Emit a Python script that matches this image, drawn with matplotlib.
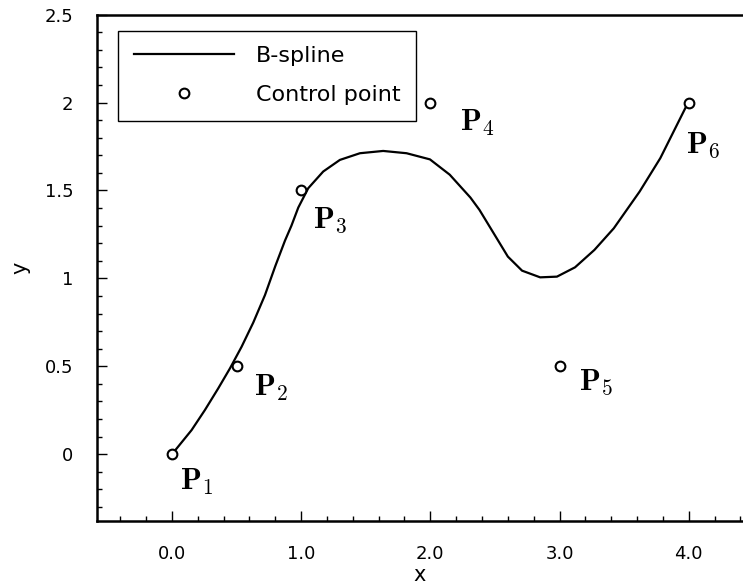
import numpy as np
import matplotlib
matplotlib.use('Agg')
import matplotlib.pyplot as plt
from matplotlib.ticker import MultipleLocator

plt.rcParams['mathtext.fontset'] = 'cm'

# control points
ctrl_x = [0.0, 0.5, 1.0, 2.0, 3.0, 4.0]
ctrl_y = [0.0, 0.5, 1.5, 2.0, 0.5, 2.0]
ctrl_names = [r'$\mathbf{P}_1$', r'$\mathbf{P}_2$', r'$\mathbf{P}_3$',
              r'$\mathbf{P}_4$', r'$\mathbf{P}_5$', r'$\mathbf{P}_6$']

# B-spline curve
spline_x = [0.0, 0.036, 0.152, 0.255, 0.358, 0.449, 0.539, 0.629, 0.72, 0.80,
            0.875, 0.925, 0.978, 1.055, 1.171, 1.30, 1.455, 1.635, 1.816, 1.997,
            2.15, 2.23, 2.31, 2.38, 2.49, 2.60, 2.71, 2.85, 2.98, 3.12, 3.27,
            3.42, 3.62, 3.78, 3.98, 4.0]
spline_y = [0.0, 0.032, 0.137, 0.251, 0.374, 0.488, 0.611, 0.748, 0.905, 1.07,
            1.215, 1.30, 1.403, 1.513, 1.608, 1.674, 1.712, 1.725, 1.712, 1.677,
            1.59, 1.525, 1.46, 1.39, 1.257, 1.124, 1.044, 1.006, 1.01, 1.063,
            1.162, 1.285, 1.494, 1.684, 1.978, 2.0]

xticks = [0, 1, 2, 3, 4]
xticklabels = ['0.0', '1.0', '2.0', '3.0', '4.0']
yticks = [0, 0.5, 1, 1.5, 2, 2.5]
yticklabels = ['0', '0.5', '1', '1.5', '2', '2.5']

# label offsets in pixels (right, down)
label_off = [(8, -13), (17, -7), (12, -15), (30, -5), (19, -1), (-3, -28)]

fig = plt.figure(figsize=(7.43, 5.85), dpi=100)
ax = fig.add_axes([97/743, 64/585, 646/743, 506.3/585])

ax.plot(spline_x, spline_y, '-', color='black', lw=1.6, label='B-spline',
        solid_joinstyle='round', zorder=2)
ax.plot(ctrl_x, ctrl_y, 'o', ms=7, mew=1.5, mec='black', mfc='white',
        label='Control point', zorder=3)

for x, y, name, off in zip(ctrl_x, ctrl_y, ctrl_names, label_off):
    ax.annotate(name, (x, y), xytext=off, textcoords='offset pixels',
                ha='left', va='top', fontsize=22)

ax.set_xlim(-0.58, 4.42)
ax.set_ylim(-0.38, 2.5)
ax.set_xticks(xticks)
ax.set_xticklabels(xticklabels)
ax.set_yticks(yticks)
ax.set_yticklabels(yticklabels)
ax.xaxis.set_minor_locator(MultipleLocator(0.2))
ax.yaxis.set_minor_locator(MultipleLocator(0.1))
ax.tick_params(which='both', direction='in', top=False, right=False,
               labelsize=13, width=1.0)
ax.tick_params(which='major', length=7, pad=17)
ax.tick_params(which='minor', length=3.5)

for s in ['left', 'bottom', 'top']:
    ax.spines[s].set_linewidth(1.8)
ax.spines['right'].set_visible(False)

ax.set_xlabel('x', fontsize=15, labelpad=2)
ax.set_ylabel('y', fontsize=15, labelpad=10)

leg = ax.legend(loc='upper left', bbox_to_anchor=(21/646, 490.3/506.3),
                borderaxespad=0, fontsize=16, handlelength=4.5,
                handletextpad=1.0, labelspacing=0.85, borderpad=0.7,
                fancybox=False, framealpha=1, edgecolor='black')
leg.get_frame().set_linewidth(1.0)

plt.savefig('out.png', dpi=100)
